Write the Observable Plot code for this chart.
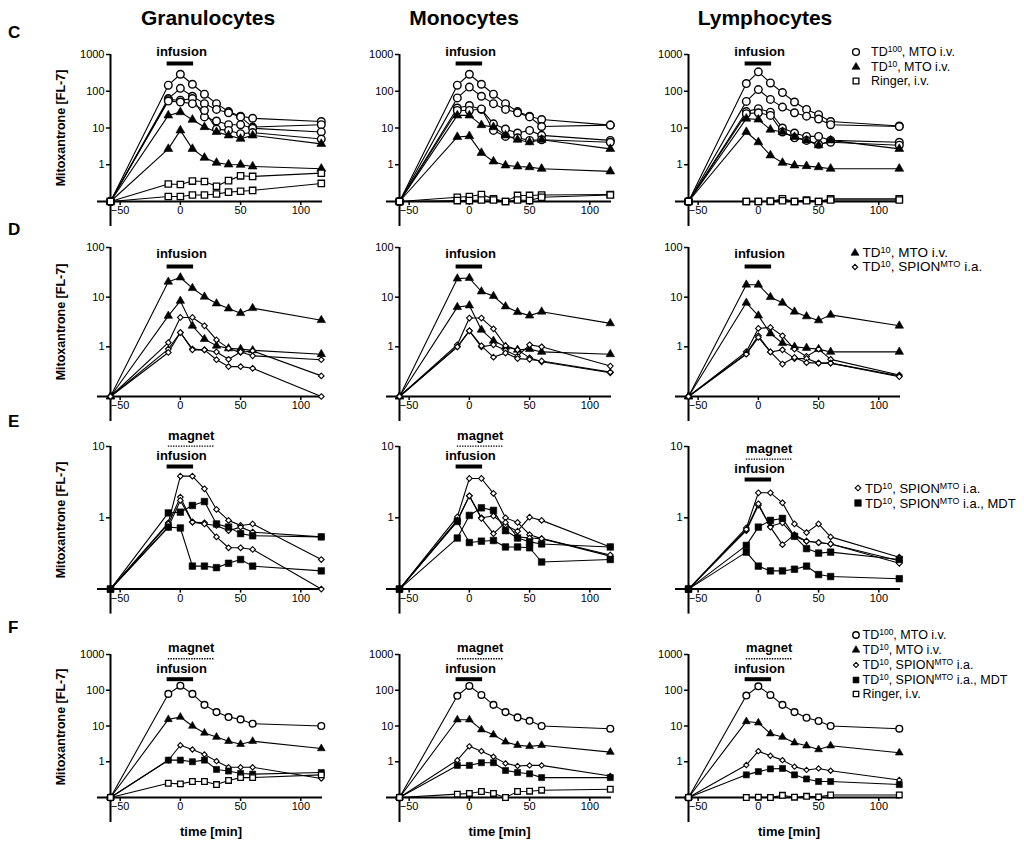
<!DOCTYPE html>
<html><head><meta charset="utf-8">
<script src="https://cdn.jsdelivr.net/npm/d3@7"></script>
<script src="https://cdn.jsdelivr.net/npm/@observablehq/plot@0.6"></script>
<style>
body{margin:0;background:#fff;font-family:"Liberation Sans",Arial,Helvetica,sans-serif;color:#000}
#root{position:relative;width:1024px;height:848px;overflow:hidden;background:#fff}
.abs{position:absolute;white-space:nowrap}
.title{font-weight:bold;font-size:21px;transform:translate(-50%,-50%)}
.letter{font-weight:bold;font-size:17px;transform:translate(0,-50%)}
.ylab{font-weight:bold;font-size:12.5px;transform:translate(-50%,-50%) rotate(-90deg)}
.xlab{font-weight:bold;font-size:13px;transform:translate(-50%,-50%)}
.ltext{transform:translate(0,-50%);line-height:1}
.lsym{transform:translate(-50%,-50%);line-height:0}
sup{font-size:0.68em;vertical-align:0.45em;line-height:0}
</style>
</head><body><div id="root"></div>
<script>
// ---------- data ----------
const times = [-10, 0, 10, 20, 30, 40, 50, 60, 117];
const baseTime = -58;
const baseValue = 0.1;
const xTicks = [-50, 0, 50, 100];
const infusionWindow = [-11, 11];
const magnetWindow = [-10, 28];
const columnTitles = ["Granulocytes", "Monocytes", "Lymphocytes"];
const rowLetters = ["C", "D", "E", "F"];
const yTop = [1000, 100, 10, 1000];
const yTicksByRow = [[1, 10, 100, 1000], [1, 10, 100], [1, 10], [1, 10, 100, 1000]];
const yLabel = "Mitoxantrone [FL-7]";
const xLabel = "time [min]";
const legendGroups = [["TD100", "TD10", "Ringer"], ["TD10", "SPION"], ["SPION", "MDT"], ["TD100", "TD10", "SPION", "MDT", "Ringer"]];
const groupLabels = {
  TD100: "TD<sup>100</sup>, MTO i.v.",
  TD10: "TD<sup>10</sup>, MTO i.v.",
  SPION: "TD<sup>10</sup>, SPION<sup>MTO</sup> i.a.",
  MDT: "TD<sup>10</sup>, SPION<sup>MTO</sup> i.a., MDT",
  Ringer: "Ringer, i.v."
};

// each series: [group, values at times]
const granC = [
  ["TD100", 146, 290, 155, 83, 46, 28, 21, 18.4, 15],
  ["TD100", 63, 120, 73, 46, 32, 26, 20, 10.6, 12.3],
  ["TD100", 59, 57, 63, 20, 15.5, 12.3, 12.3, 9.8, 7.8],
  ["TD100", 54, 51, 46, 30, 9.3, 8.6, 7, 7.5, 5],
  ["TD10", 22, 27, 16.8, 10.6, 7.8, 6.3, 5.1, 6.3, 3.7],
  ["TD10", 2.7, 8.6, 2.7, 1.55, 1.13, 1.02, 1.0, 0.9, 0.78],
  ["Ringer", 0.30, 0.29, 0.36, 0.35, 0.26, 0.37, 0.5, 0.48, 0.59],
  ["Ringer", 0.137, 0.137, 0.15, 0.15, 0.16, 0.18, 0.19, 0.2, 0.31]
];
const monoC = [
  ["TD100", 146, 290, 155, 83, 46, 28, 21, 17, 12],
  ["TD100", 66, 130, 73, 46, 32, 26, 20, 11, 12],
  ["TD100", 35, 41, 32, 13, 9.4, 7.3, 8.6, 6.3, 4.6],
  ["TD100", 30, 30, 33, 8.6, 5.9, 5.4, 4.6, 4.8, 4.1],
  ["TD10", 22, 22, 12, 10.6, 6.3, 4.8, 4.1, 4.8, 2.7],
  ["TD10", 5.7, 6, 2.1, 1.23, 0.96, 0.9, 0.86, 0.78, 0.66],
  ["Ringer", 0.13, 0.137, 0.155, 0.118, 0.1, 0.146, 0.146, 0.15, 0.155],
  ["Ringer", 0.106, 0.106, 0.11, 0.11, 0.1, 0.11, 0.106, 0.13, 0.15]
];
const lymphC = [
  ["TD100", 162, 337, 168, 92, 51, 32, 23, 15, 11.3],
  ["TD100", 53, 111, 60, 37, 26, 21, 17.6, 12.3, 11],
  ["TD100", 28, 33.6, 27, 10, 7.3, 5.9, 5.9, 4.6, 4.1],
  ["TD100", 24.6, 26, 22, 7.8, 5.4, 4.6, 3.6, 4.1, 3.4],
  ["TD10", 18, 17, 9, 7.8, 5.7, 4.6, 3.4, 4.6, 2.7],
  ["TD10", 7.8, 4.1, 1.8, 1.13, 0.96, 0.92, 0.86, 0.78, 0.78],
  ["Ringer", 0.1, 0.1, 0.1, 0.118, 0.1, 0.11, 0.1, 0.118, 0.118],
  ["Ringer", 0.1, 0.1, 0.102, 0.105, 0.1, 0.105, 0.1, 0.11, 0.11]
];
const granD = [
  ["TD10", 20.4, 24.9, 15.2, 10.2, 7.45, 5.9, 4.76, 6.0, 3.44],
  ["TD10", 4.2, 8.4, 2.65, 1.43, 1.05, 0.93, 0.9, 0.85, 0.71],
  ["SPION", 1.22, 3.9, 3.9, 2.65, 1.38, 0.93, 0.77, 0.83, 0.26],
  ["SPION", 0.9, 1.94, 0.9, 0.87, 0.79, 0.56, 0.79, 0.66, 0.55],
  ["SPION", 0.77, 1.94, 0.87, 0.87, 0.55, 0.40, 0.40, 0.37, 0.1]
];
const monoD = [
  ["TD10", 23.6, 24.3, 13, 10.5, 6.5, 5.0, 4.25, 5.1, 2.97],
  ["TD10", 6.3, 6.8, 2.2, 1.32, 1.0, 0.87, 0.9, 0.79, 0.71],
  ["SPION", 1.1, 3.8, 3.8, 2.3, 1.05, 0.87, 0.6, 0.5, 0.3],
  ["SPION", 1.0, 2.1, 1.0, 1.1, 0.85, 0.65, 1.1, 1.0, 0.41],
  ["SPION", 1.0, 2.1, 1.05, 0.62, 0.75, 0.58, 0.56, 0.52, 0.31]
];
const lymphD = [
  ["TD10", 17.8, 17.8, 10, 7.7, 5.1, 4.1, 3.4, 4.4, 2.66],
  ["TD10", 7.7, 4.25, 1.86, 1.19, 1.0, 0.95, 0.9, 0.79, 0.79],
  ["SPION", 0.8, 2.35, 2.46, 1.67, 0.9, 0.64, 0.9, 0.56, 0.27],
  ["SPION", 0.74, 1.67, 0.79, 0.87, 0.58, 0.58, 0.47, 0.47, 0.26],
  ["SPION", 0.71, 1.55, 0.79, 0.45, 0.61, 0.48, 0.47, 0.47, 0.25]
];
const granE = [
  ["SPION", 0.85, 3.84, 3.84, 2.55, 1.31, 0.92, 0.78, 0.82, 0.26],
  ["SPION", 0.82, 1.95, 0.87, 0.85, 0.54, 0.38, 0.38, 0.36, 0.1],
  ["SPION", 0.74, 1.75, 0.87, 0.82, 0.78, 0.66, 0.74, 0.63, 0.54],
  ["MDT", 1.17, 1.2, 1.49, 1.69, 0.82, 0.74, 0.6, 0.56, 0.54],
  ["MDT", 0.74, 0.72, 0.21, 0.21, 0.2, 0.23, 0.26, 0.21, 0.18]
];
const monoE = [
  ["SPION", 1.03, 3.56, 3.56, 2.2, 1.0, 0.86, 0.58, 0.51, 0.29],
  ["SPION", 0.93, 2.03, 1.0, 1.06, 0.79, 0.65, 1.02, 0.92, 0.39],
  ["SPION", 0.9, 2.03, 0.98, 0.6, 0.86, 0.54, 0.52, 0.51, 0.3],
  ["MDT", 0.52, 1.08, 1.38, 1.27, 0.66, 0.52, 0.46, 0.43, 0.39],
  ["MDT", 0.89, 0.45, 0.47, 0.48, 0.39, 0.39, 0.38, 0.24, 0.26]
];
const lymphE = [
  ["SPION", 0.72, 2.24, 2.24, 1.62, 0.82, 0.62, 0.82, 0.54, 0.28],
  ["SPION", 0.66, 1.5, 0.76, 0.85, 0.55, 0.47, 0.45, 0.43, 0.25],
  ["SPION", 0.69, 1.57, 0.74, 0.42, 0.58, 0.47, 0.45, 0.43, 0.23],
  ["MDT", 0.41, 0.74, 0.92, 0.98, 0.55, 0.37, 0.32, 0.33, 0.26],
  ["MDT", 0.33, 0.21, 0.18, 0.18, 0.19, 0.21, 0.16, 0.15, 0.14]
];
const granF = [
  ["TD100", 79, 134, 79, 39, 24.5, 17.8, 15.3, 11.6, 10],
  ["TD10", 15.3, 17.8, 10, 6.4, 4.9, 3.75, 3.1, 3.75, 2.35],
  ["SPION", 1.1, 2.9, 2.2, 1.6, 1.04, 0.7, 0.7, 0.7, 0.34],
  ["MDT", 1.11, 1.11, 1.0, 1.11, 0.61, 0.55, 0.47, 0.45, 0.5],
  ["Ringer", 0.25, 0.24, 0.28, 0.28, 0.23, 0.3, 0.36, 0.36, 0.43]
];
const monoF = [
  ["TD100", 70, 132, 74, 39, 24.5, 17.4, 14, 10, 8.4],
  ["TD10", 15, 15, 7.9, 5.7, 3.6, 2.9, 2.7, 2.9, 1.86],
  ["SPION", 1.11, 2.7, 1.98, 1.38, 0.9, 0.76, 0.79, 0.79, 0.4],
  ["MDT", 0.79, 0.79, 0.94, 0.94, 0.57, 0.5, 0.46, 0.36, 0.36],
  ["Ringer", 0.124, 0.13, 0.147, 0.13, 0.1, 0.147, 0.15, 0.16, 0.17]
];
const lymphF = [
  ["TD100", 71, 129, 74, 39, 24.5, 17, 13.8, 10, 8.4],
  ["TD10", 13.4, 12.3, 6.1, 4.9, 3.4, 2.8, 2.2, 2.8, 1.78],
  ["SPION", 0.81, 1.98, 1.47, 1.11, 0.73, 0.59, 0.65, 0.56, 0.31],
  ["MDT", 0.43, 0.53, 0.63, 0.65, 0.43, 0.33, 0.28, 0.28, 0.23],
  ["Ringer", 0.1, 0.102, 0.1, 0.115, 0.102, 0.108, 0.104, 0.118, 0.118]
];
const panelSeries = [
  [granC, monoC, lymphC],
  [granD, monoD, lymphD],
  [granE, monoE, lymphE],
  [granF, monoF, lymphF]
];

// ---------- layout & style ----------
const colAxisX = [110, 398.5, 688];
const rowTopPx = [54, 246.7, 445.7, 654.3];
const rowBottomPx = [201, 395.7, 588.3, 797.3];
const xDomain = [baseTime, 118];
const plotW = 212;
const ML = 45, MR = 12, MT = 30, MB = 42;
const pxPerMin = plotW / (xDomain[1] - xDomain[0]);
const rowAnnoPx = [
  {infLabel: 51.7, infBar: 63},
  {infLabel: 253, infBar: 265.7},
  {magLabel: 435, magLine: 445.3, infLabel: 455.3, infBar: 465.7},
  {magLabel: 648, magLine: 658.5, infLabel: 669, infBar: 679}
];
const annoShift = [[0, 0, 0], [0, 0, 0], [0, 0, 13], [0, 0, 0]];
const markerScale = [1, 0.95, 0.95, 0.88];
const styles = {
  TD100: {symbol: "circle", fill: "white", r: 3.8, sw: 1.4},
  TD10: {symbol: "triangle", fill: "black", r: 3.3, sw: 0.6},
  SPION: {symbol: "diamond2", fill: "white", r: 2.7, sw: 1.1},
  MDT: {symbol: "square", fill: "black", r: 3.9, sw: 0.6},
  Ringer: {symbol: "square", fill: "white", r: 3.6, sw: 1.3}
};
const FONT = "'Liberation Sans', Arial, Helvetica, sans-serif";
const root = document.getElementById("root");

function addDiv(cls, html, x, y, extra) {
  const d = document.createElement("div");
  d.className = "abs " + cls;
  d.innerHTML = html;
  d.style.left = x + "px";
  d.style.top = y + "px";
  if (extra) Object.assign(d.style, extra);
  root.appendChild(d);
  return d;
}

function makePanel(series, r, c) {
  const top = yTop[r];
  const dec = (rowBottomPx[r] - rowTopPx[r]) / (Math.log10(top) - Math.log10(baseValue));
  const val = px => Math.pow(10, Math.log10(top) - (px - rowTopPx[r]) / dec);
  const pts = [];
  series.forEach((s, k) => {
    pts.push({k, g: s[0], t: baseTime, v: baseValue});
    times.forEach((t, i) => pts.push({k, g: s[0], t, v: s[i + 1]}));
  });
  const a = rowAnnoPx[r];
  const sh = annoShift[r][c];
  const marks = [
    Plot.ruleY([baseValue], {x1: baseTime - 13 / pxPerMin, x2: xDomain[1], stroke: "black", strokeWidth: 2}),
    Plot.ruleX([baseTime], {y1: val(rowBottomPx[r] + 25), y2: top, stroke: "black", strokeWidth: 2}),
    Plot.axisY({ticks: yTicksByRow[r], tickFormat: d => String(d), tickSize: 4, tickPadding: 2, label: null, fontSize: 11, strokeWidth: 1.5}),
    Plot.axisX({ticks: xTicks, tickSize: 4, tickPadding: 1, label: null, fontSize: 11, strokeWidth: 1.5}),
    Plot.line(pts, {x: "t", y: "v", z: "k", stroke: "black", strokeWidth: 1.1})
  ];
  for (const g of Object.keys(styles)) {
    const st = styles[g];
    const gp = pts.filter(d => d.g === g);
    if (!gp.length) continue;
    marks.push(Plot.dot(gp, {x: "t", y: "v", symbol: st.symbol, fill: st.fill, stroke: "black", r: st.r * markerScale[r], strokeWidth: st.sw}));
  }
  // annotations
  marks.push(Plot.ruleY([val(a.infBar + sh)], {x1: infusionWindow[0], x2: infusionWindow[1], stroke: "black", strokeWidth: 4}));
  marks.push(Plot.text(["infusion"], {x: 1, y: val(a.infLabel + sh), text: d => d, fontWeight: "bold", fontSize: 13}));
  if (a.magLabel !== undefined) {
    marks.push(Plot.ruleY([val(a.magLine + sh)], {x1: magnetWindow[0], x2: magnetWindow[1], stroke: "black", strokeWidth: 1.4, strokeDasharray: "1.4,1.2"}));
    marks.push(Plot.text(["magnet"], {x: 9, y: val(a.magLabel + sh), text: d => d, fontWeight: "bold", fontSize: 13}));
  }
  const plotH = rowBottomPx[r] - rowTopPx[r];
  const svg = Plot.plot({
    width: ML + plotW + MR,
    height: MT + plotH + MB,
    marginLeft: ML, marginRight: MR, marginTop: MT, marginBottom: MB,
    x: {domain: xDomain},
    y: {type: "log", domain: [baseValue, top]},
    style: {fontFamily: FONT, fontSize: "11px", color: "black", background: "transparent", overflow: "visible"},
    marks
  });
  svg.style.position = "absolute";
  svg.style.left = (colAxisX[c] - ML) + "px";
  svg.style.top = (rowTopPx[r] - MT) + "px";
  root.appendChild(svg);
}

panelSeries.forEach((row, r) => row.forEach((s, c) => makePanel(s, r, c)));

// titles
const titleX = [208, 464, 765];
columnTitles.forEach((t, c) => addDiv("title", t, titleX[c], 18));
const letterY = [33, 230, 422, 628];
rowLetters.forEach((t, r) => addDiv("letter", t, 8, letterY[r]));
const yLabelY = [128, 322, 520, 727];
yLabelY.forEach(y => addDiv("ylab", yLabel, 61, y));
colAxisX.forEach(x => addDiv("xlab", xLabel, x + 101, 831));

// legends
function symbolSVG(g, scale) {
  const st = styles[g];
  const s = 12, c = 6;
  const sym = {circle: d3.symbolCircle, triangle: d3.symbolTriangle, diamond2: d3.symbolDiamond2, square: d3.symbolSquare}[st.symbol];
  const path = d3.symbol(sym, Math.PI * Math.pow(st.r * scale, 2))();
  return `<svg width="${s}" height="${s}" viewBox="0 0 ${s} ${s}"><path transform="translate(${c},${c})" d="${path}" fill="${st.fill}" stroke="black" stroke-width="${st.sw}"/></svg>`;
}
const legendLayout = [
  {symX: 856, textX: 871, ys: [52, 66.5, 81], fs: 12.5, sc: 0.9},
  {symX: 855, textX: 862.5, ys: [253.3, 267], fs: 13.5, sc: 0.9},
  {symX: 858, textX: 865, ys: [488.3, 503.3], fs: 13, sc: 0.95},
  {symX: 856, textX: 862.5, ys: [635, 650, 665, 679.5, 694], fs: 12.5, sc: 0.85}
];
legendGroups.forEach((groups, i) => {
  const L = legendLayout[i];
  groups.forEach((g, j) => {
    addDiv("lsym", symbolSVG(g, L.sc), L.symX, L.ys[j]);
    addDiv("ltext", groupLabels[g], L.textX, L.ys[j], {fontSize: L.fs + "px"});
  });
});
</script>
</body></html>
